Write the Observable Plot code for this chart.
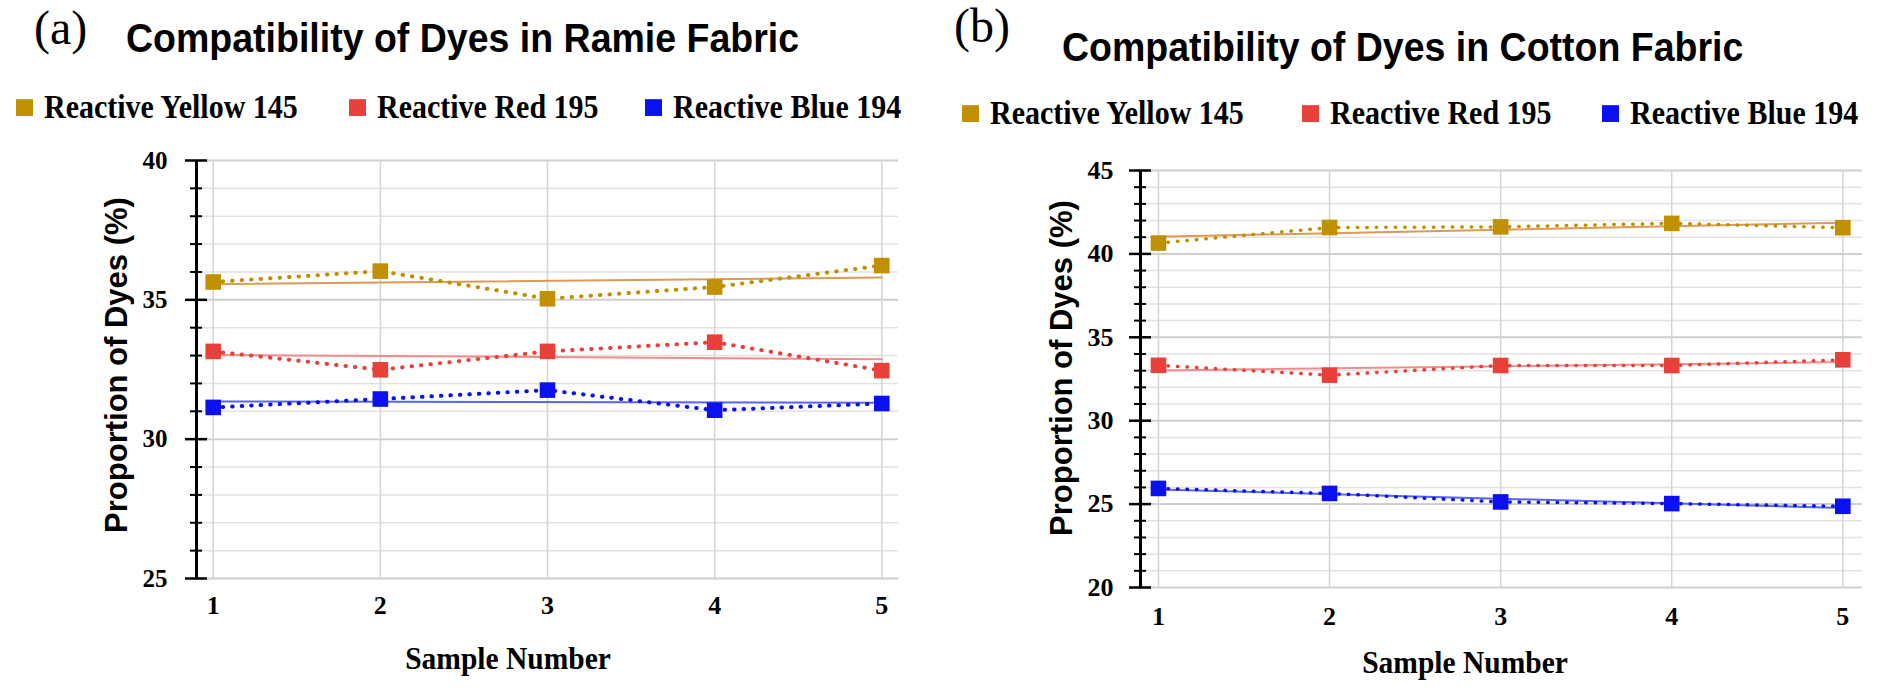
<!DOCTYPE html>
<html><head><meta charset="utf-8">
<script src="https://cdn.jsdelivr.net/npm/d3@7"></script>
<script src="https://cdn.jsdelivr.net/npm/@observablehq/plot@0.6"></script>
<style>
body{margin:0;background:#fff;width:1883px;height:690px;position:relative;overflow:hidden}
.abs{position:absolute;white-space:nowrap;line-height:1}
.plabel{font-family:"Liberation Serif";font-size:48px}
.title{font-family:"Liberation Sans";font-weight:bold;font-size:37.5px;transform:scaleY(1.1);transform-origin:0 0}
.leg{font-family:"Liberation Serif";font-weight:bold;font-size:30px;display:flex;align-items:center;transform:scaleY(1.12);transform-origin:0 50%}
.sw{display:inline-block;width:17px;height:15px;margin-right:11px}
.xt{font-family:"Liberation Serif";font-weight:bold;font-size:29.5px;transform:translateX(-50%) scaleY(1.1)}
.yt{font-family:"Liberation Sans";font-weight:bold;font-size:31px;transform:translate(-50%,-50%) rotate(-90deg)}
</style></head>
<body>
<script>
const samples = [1, 2, 3, 4, 5];
const dyes = ["Reactive Yellow 145", "Reactive Red 195", "Reactive Blue 194"];
const markerColors = ["#BF9000", "#E8403A", "#0A10F0"];
const trendColors = ["#DD9A55", "#F28C8C", "#5B63F5"];

const ramieYellow = [35.64, 36.03, 35.04, 35.46, 36.23];
const ramieRed = [33.15, 32.49, 33.15, 33.48, 32.46];
const ramieBlue = [31.14, 31.44, 31.76, 31.04, 31.28];

const cottonYellow = [40.65, 41.58, 41.62, 41.83, 41.57];
const cottonRed = [33.32, 32.73, 33.31, 33.31, 33.65];
const cottonBlue = [25.94, 25.64, 25.13, 25.03, 24.87];

const ramieMajor = [25, 30, 35, 40];
const ramieMinor = [26, 27, 28, 29, 31, 32, 33, 34, 36, 37, 38, 39];
const cottonMajor = [20, 25, 30, 35, 40, 45];
const cottonMinor = [21, 22, 23, 24, 26, 27, 28, 29, 31, 32, 33, 34, 36, 37, 38, 39, 41, 42, 43, 44];
const xTicks = [1, 2, 3, 4, 5];

function addDiv(cls, text, style) {
  const d = document.createElement("div");
  d.className = "abs " + cls;
  d.textContent = text;
  Object.assign(d.style, style);
  document.body.appendChild(d);
  return d;
}
function addLegend(top, lefts) {
  dyes.forEach((name, i) => {
    const d = document.createElement("div");
    d.className = "abs leg";
    d.style.left = lefts[i] + "px";
    d.style.top = top + "px";
    const s = document.createElement("span");
    s.className = "sw";
    s.style.background = markerColors[i];
    d.appendChild(s);
    d.appendChild(document.createTextNode(name));
    document.body.appendChild(d);
  });
}

function chart(series, o) {
  const rows = series.map((vals, i) => samples.map((s, j) => ({sample: s, value: vals[j], dye: dyes[i]})));
  const marks = [
    Plot.ruleY(o.minor, {stroke: "#e2e2e2", strokeWidth: 1.5}),
    Plot.ruleY(o.major, {stroke: "#cfcfcf", strokeWidth: 2}),
    Plot.ruleX(xTicks, {stroke: "#d4d4d4", strokeWidth: 1.5})
  ];
  rows.forEach((r, i) => marks.push(Plot.linearRegressionY(r, {x: "sample", y: "value", stroke: trendColors[i], strokeWidth: 2, ci: 0})));
  rows.forEach((r, i) => marks.push(Plot.line(r, {x: "sample", y: "value", stroke: markerColors[i], strokeWidth: o.dotW, strokeDasharray: "0.5 9", strokeLinecap: "round"})));
  rows.forEach((r, i) => marks.push(Plot.dot(r, {x: "sample", y: "value", fill: markerColors[i], symbol: "square", r: 8.8})));
  marks.push(
    Plot.ruleX([o.xDomain[0]], {stroke: "black", strokeWidth: 3}),
    Plot.axisY(o.major, {tickSize: 22, dx: 11, strokeWidth: 2.5, fill: "none", label: null}),
    Plot.axisY(o.minor, {tickSize: 12, dx: 6, strokeWidth: 2, fill: "none", label: null}),
    Plot.axisY(o.major, {tickSize: 0, tickPadding: o.yPad, stroke: "none", fontSize: o.yFont, fontWeight: "bold", fontFamily: "Liberation Serif", fill: "black", label: null}),
    Plot.axisX(xTicks, {tickSize: 0, tickPadding: o.xPad, tickFormat: "d", fontSize: o.xFont, fontWeight: "bold", fontFamily: "Liberation Serif", fill: "black", label: null})
  );
  const svg = Plot.plot({
    width: o.width, height: o.height,
    marginLeft: o.ml, marginRight: o.mr, marginTop: o.mt, marginBottom: o.mb,
    x: {type: "linear", domain: o.xDomain},
    y: {domain: o.yDomain},
    style: {background: "transparent", overflow: "visible"},
    marks
  });
  svg.style.position = "absolute";
  svg.style.left = o.left + "px";
  svg.style.top = o.top + "px";
  document.body.appendChild(svg);
}

// Panel (a)
addDiv("plabel", "(a)", {left: "34px", top: "4px"});
addDiv("title", "Compatibility of Dyes in Ramie Fabric", {left: "126px", top: "18px"});
addLegend(92, [16, 349, 645]);
chart([ramieYellow, ramieRed, ramieBlue], {
  left: 0, top: 140, width: 930, height: 550, ml: 196, mr: 32, mt: 20, mb: 112,
  xDomain: [0.9, 5.1], yDomain: [25, 40], major: ramieMajor, minor: ramieMinor,
  yPad: 29, yFont: 25, xPad: 17, xFont: 26, dotW: 4
});
addDiv("xt", "Sample Number", {left: "508px", top: "644px"});
addDiv("yt", "Proportion of Dyes (%)", {left: "116px", top: "365px"});

// Panel (b)
addDiv("plabel", "(b)", {left: "954px", top: "2px"});
addDiv("title", "Compatibility of Dyes in Cotton Fabric", {left: "1062px", top: "27px"});
addLegend(98, [962, 1302, 1602]);
chart([cottonYellow, cottonRed, cottonBlue], {
  left: 940, top: 140, width: 943, height: 550, ml: 200, mr: 21, mt: 30, mb: 103,
  xDomain: [0.895, 5.115], yDomain: [20, 45], major: cottonMajor, minor: cottonMinor,
  yPad: 27, yFont: 26, xPad: 19, xFont: 26, dotW: 3.5
});
addDiv("xt", "Sample Number", {left: "1465px", top: "648px"});
addDiv("yt", "Proportion of Dyes (%)", {left: "1061px", top: "368px"});
</script>
</body></html>
